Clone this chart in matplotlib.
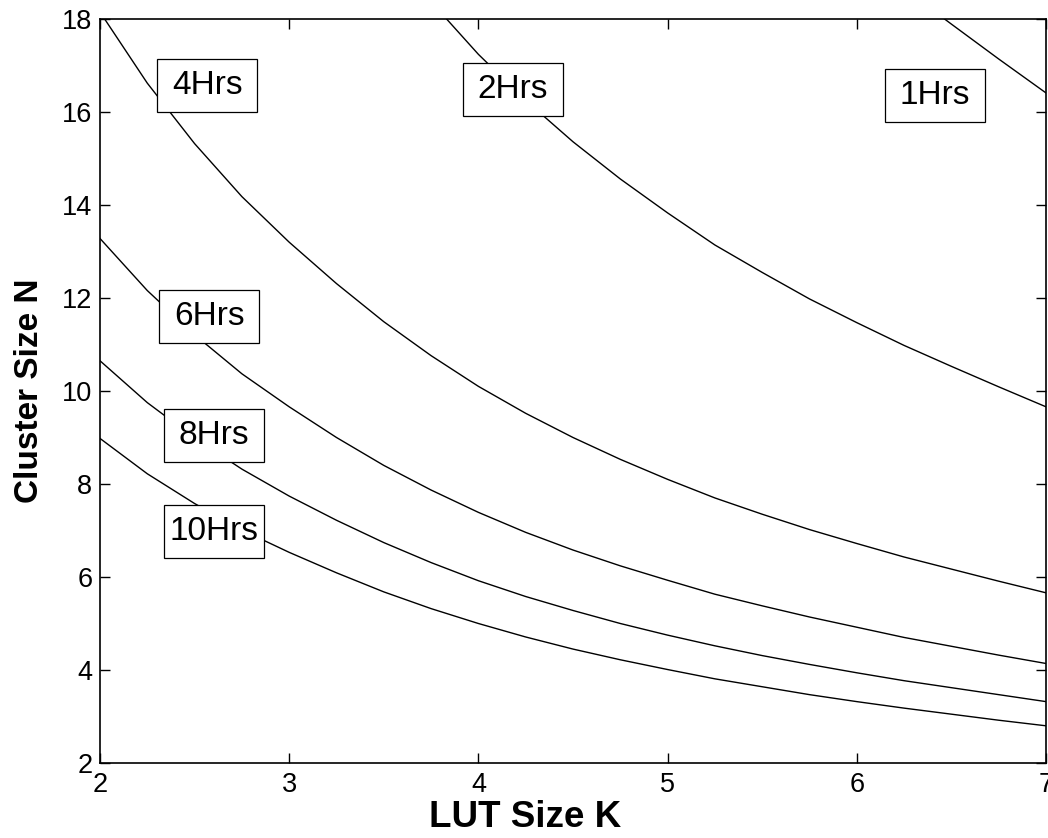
import matplotlib
matplotlib.use("Agg")
import matplotlib.pyplot as plt
from matplotlib.patches import Rectangle

plt.rcParams['font.family'] = ['Liberation Sans', 'DejaVu Sans']

# LUT size K (x values shared by all curves)
lut_k = [2.0, 2.25, 2.5, 2.75, 3.0, 3.25, 3.5, 3.75, 4.0, 4.25, 4.5,
         4.75, 5.0, 5.25, 5.5, 5.75, 6.0, 6.25, 6.5, 6.75, 7.0]

# Cluster size N for each runtime contour
n_1hrs = [52.6, 48.2, 44.4, 41.1, 38.3, 35.7, 33.3, 31.2, 29.3, 27.6, 26.1,
          24.7, 23.5, 22.3, 21.3, 20.4, 19.49, 18.65, 17.89, 17.14, 16.41]
n_2hrs = [30.98, 28.37, 26.15, 24.21, 22.53, 21.01, 19.61, 18.37, 17.24, 16.25, 15.36,
          14.56, 13.83, 13.14, 12.55, 11.98, 11.47, 10.98, 10.53, 10.09, 9.66]
n_4hrs = [18.15, 16.62, 15.32, 14.18, 13.20, 12.31, 11.49, 10.76, 10.10, 9.52, 9.00,
          8.53, 8.10, 7.70, 7.35, 7.02, 6.72, 6.43, 6.17, 5.91, 5.66]
n_6hrs = [13.28, 12.16, 11.21, 10.37, 9.66, 9.00, 8.40, 7.87, 7.39, 6.96, 6.58,
          6.24, 5.93, 5.63, 5.38, 5.14, 4.92, 4.70, 4.51, 4.32, 4.14]
n_8hrs = [10.65, 9.75, 8.99, 8.32, 7.74, 7.22, 6.74, 6.31, 5.92, 5.58, 5.28,
          5.00, 4.75, 4.52, 4.31, 4.12, 3.94, 3.77, 3.62, 3.47, 3.32]
n_10hrs = [8.98, 8.22, 7.58, 7.01, 6.53, 6.09, 5.68, 5.32, 5.00, 4.71, 4.45,
           4.22, 4.01, 3.81, 3.64, 3.47, 3.32, 3.18, 3.05, 2.92, 2.80]

# contour labels
label_text = ["1Hrs", "2Hrs", "4Hrs", "6Hrs", "8Hrs", "10Hrs"]
label_k = [6.413, 4.183, 2.568, 2.578, 2.603, 2.604]
label_n = [16.36, 16.49, 16.56, 11.60, 9.05, 6.97]

x_ticks = [2, 3, 4, 5, 6, 7]
y_ticks = [2, 4, 6, 8, 10, 12, 14, 16, 18]

fig = plt.figure(figsize=(10.48, 8.38), dpi=100)
ax = fig.add_axes([100 / 1048, 75 / 838, 946 / 1048, 744 / 838])

for series in (n_1hrs, n_2hrs, n_4hrs, n_6hrs, n_8hrs, n_10hrs):
    ax.plot(lut_k, series, color='black', linewidth=1.0, zorder=2)

ax.set_xlim(2, 7)
ax.set_ylim(2, 18)
ax.set_xticks(x_ticks)
ax.set_yticks(y_ticks)

# fixed-size label boxes (approx 100 x 53 px)
bw = 100 / 189.2
bh = 53 / 46.5
for txt, kx, ny in zip(label_text, label_k, label_n):
    ax.add_patch(Rectangle((kx - bw / 2, ny - bh / 2), bw, bh, facecolor='white',
                           edgecolor='black', linewidth=0.9, zorder=3))
    ax.text(kx, ny, txt, ha='center', va='center', fontsize=24, color='black', zorder=4)

for sp in ax.spines.values():
    sp.set_linewidth(1.2)
    sp.set_color('black')

ax.tick_params(direction='in', length=7, width=1.0, top=True, right=True,
               labelsize=19.5, colors='black')
ax.tick_params(axis='x', pad=6.5)
ax.tick_params(axis='y', pad=5.5)

ax.set_xlabel('LUT Size K', fontsize=26.5, fontweight='bold')
ax.set_ylabel('Cluster Size N', fontsize=24, fontweight='bold')
ax.xaxis.label.set_va('center')
ax.yaxis.label.set_va('center')
ax.xaxis.set_label_coords((525 - 100) / 946, -(817 - 763) / 744)
ax.yaxis.set_label_coords((30 - 100) / 946, 0.5)

fig.savefig('out.png', dpi=100)
